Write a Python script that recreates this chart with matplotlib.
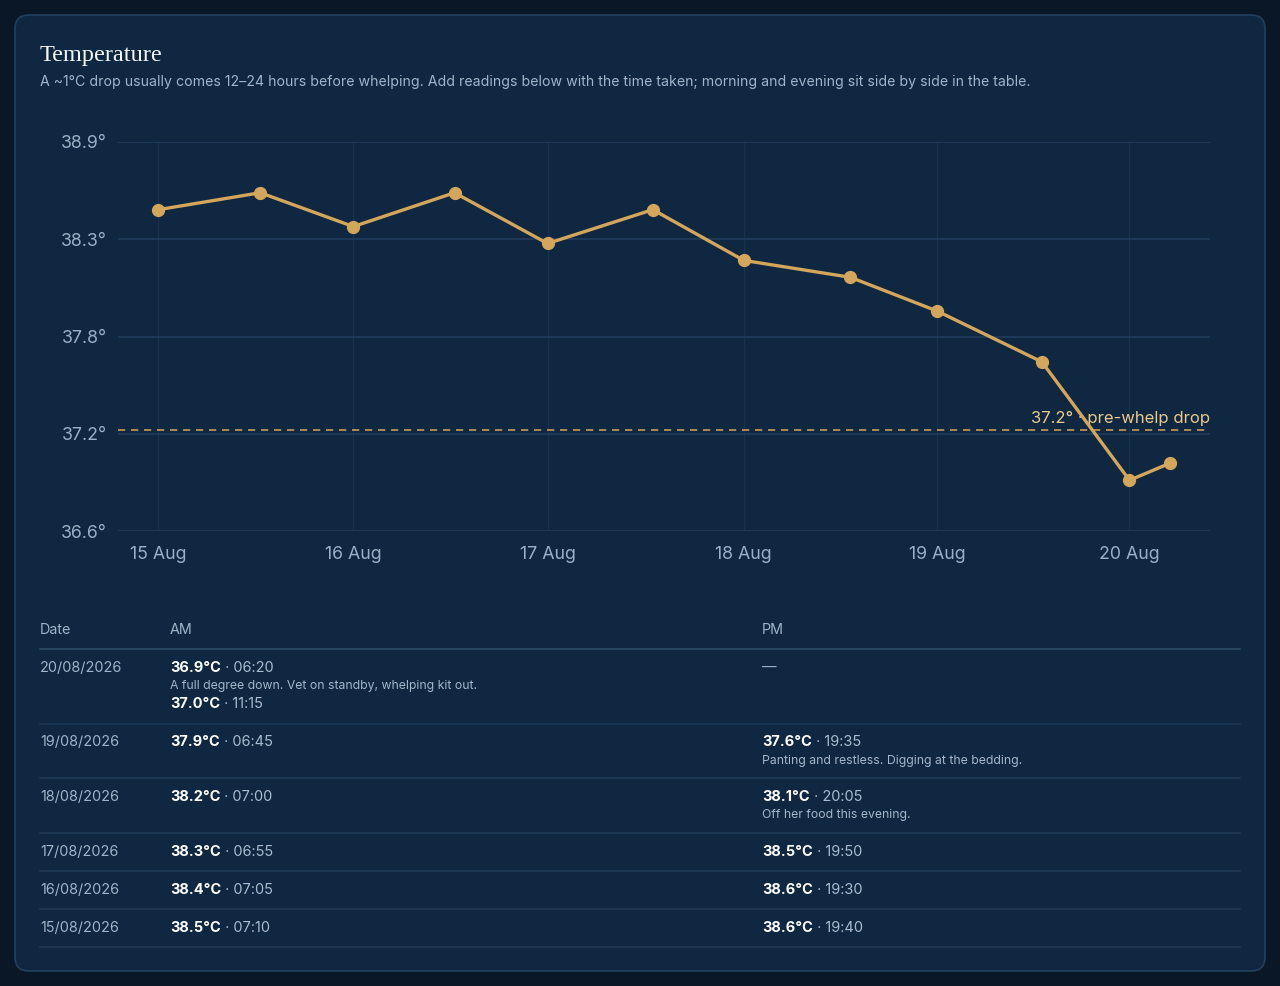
import numpy as np
import matplotlib.pyplot as plt
from matplotlib.patches import FancyBboxPatch

# readings, oldest first
reading_day = [15, 15, 16, 16, 17, 17, 18, 18, 19, 19, 20, 20]
reading_time = ['07:10', '19:40', '07:05', '19:30', '06:55', '19:50',
                '07:00', '20:05', '06:45', '19:35', '06:20', '11:15']
reading_temp = [38.5, 38.6, 38.4, 38.6, 38.3, 38.5,
                38.2, 38.1, 37.9, 37.6, 36.9, 37.0]
reading_note = ['', '', '', '', '', '', '', 'Off her food this evening.',
                '', 'Panting and restless. Digging at the bedding.',
                'A full degree down. Vet on standby, whelping kit out.', '']

threshold = 37.2
threshold_label = '37.2° · pre-whelp drop'
y_min, y_max = 36.6, 38.9

title = 'Temperature'
subtitle = ('A ~1°C drop usually comes 12–24 hours before whelping. Add readings below '
            'with the time taken; morning and evening sit side by side in the table.')
table_headers = ['Date', 'AM', 'PM']

W, H = 1280, 986
BG = '#0a1727'
CARD = '#0f2740'
GOLD = '#d4a65c'
SANS = ['Inter', 'DejaVu Sans']

plt.rcParams['font.family'] = SANS

def hours(day, t):
    hh, mm = t.split(':')
    return (day - 15) * 24 + int(hh) + int(mm) / 60.0

xs = np.array([hours(d, t) for d, t in zip(reading_day, reading_time)])
ys = np.array(reading_temp)

fig = plt.figure(figsize=(W / 100, H / 100), dpi=100, facecolor=BG)

# background axes in pixel coordinates
bg = fig.add_axes([0, 0, 1, 1])
bg.set_xlim(0, W)
bg.set_ylim(H, 0)
bg.axis('off')
bg.add_patch(FancyBboxPatch((15, 15), 1250, 956, boxstyle='round,pad=0,rounding_size=14',
                            fc=CARD, ec='#23415e', lw=1.2))

bg.text(40, 55, title, family=['Liberation Serif', 'DejaVu Serif'], fontsize=17.5,
        color='#f3f6fa', va='center', ha='left')
bg.text(40, 82, subtitle, fontsize=10.2, color='#9fb4ca', va='center', ha='left')

# chart
ax = fig.add_axes([118 / W, 1 - 531 / H, (1210 - 118) / W, (531 - 142) / H])
ax.set_facecolor('none')
pad = 0.04 * (xs.max() - xs.min())
ax.set_xlim(xs.min() - pad, xs.max() + pad)
ax.set_ylim(y_min, y_max)
yt = np.linspace(y_min, y_max, 5)
ax.set_yticks(yt)
ax.set_yticklabels(['%.1f°' % v for v in yt])
# one tick per day at its first reading
days = sorted(set(reading_day))
xt = [xs[reading_day.index(d)] for d in days]
ax.set_xticks(xt)
ax.set_xticklabels(['%d Aug' % d for d in days])
for s in ax.spines.values():
    s.set_visible(False)
ax.tick_params(length=0, labelsize=12.8, colors='#9ab0c7')
ax.tick_params(axis='y', pad=8)
ax.tick_params(axis='x', pad=11)
for v in yt:
    ax.axhline(v, color='#1f3c5a', lw=1.3, zorder=1)
for v in xt:
    ax.axvline(v, color='#17324c', lw=1.0, zorder=0.5)

ax.axhline(threshold, color=GOLD, lw=1.3, ls=(0, (4, 3.2)), alpha=0.85, zorder=2)
ax.annotate(threshold_label, xy=(1, threshold), xycoords=('axes fraction', 'data'),
            xytext=(0, 2.5), textcoords='offset points', ha='right', va='bottom',
            fontsize=12, color='#e8c98c', zorder=2.5)
ax.plot(xs, ys, color=GOLD, lw=2.4, marker='o', ms=8.5, mec=GOLD, mfc=GOLD, zorder=3,
        solid_joinstyle='round')

# table
fig.canvas.draw()
renderer = fig.canvas.get_renderer()

col_x = [40, 170, 762]
for cx, h in zip(col_x, table_headers):
    bg.text(cx, 630, h, fontsize=10.3, color='#9fb4ca', va='center', ha='left')
bg.plot([40, 1240], [649, 649], color='#2a4866', lw=1.2)

LINE_R, LINE_N, ROW_PAD = 20, 16.5, 18

def cell_entries(day, slot):
    out = []
    for i, d in enumerate(reading_day):
        if d != day:
            continue
        am = int(reading_time[i].split(':')[0]) < 12
        if (slot == 'AM') == am:
            out.append(i)
    return out

def cell_height(entries):
    if not entries:
        return LINE_R
    return sum(LINE_R + (LINE_N if reading_note[i] else 0) for i in entries)

def draw_cell(x, top, entries):
    y = top + 9
    if not entries:
        bg.text(x, y + 10, '—', fontsize=10.5, color='#9fb4ca', va='center', ha='left')
        return
    for i in entries:
        t = bg.text(x, y + 10, '%.1f°C' % reading_temp[i], fontsize=10.5, weight='bold',
                    color='#ffffff', va='center', ha='left')
        w = t.get_window_extent(renderer).width
        bg.text(x + w, y + 10, ' · ' + reading_time[i], fontsize=10.5, color='#a9bcd0',
                va='center', ha='left')
        y += LINE_R
        if reading_note[i]:
            bg.text(x, y + LINE_N / 2, reading_note[i], fontsize=8.8, color='#a3b6ca',
                    va='center', ha='left')
            y += LINE_N

top = 649
for day in sorted(days, reverse=True):
    am = cell_entries(day, 'AM')
    pm = cell_entries(day, 'PM')
    bg.text(40, top + 19, '%02d/08/2026' % day, fontsize=10.4, color='#9fb4ca',
            va='center', ha='left')
    draw_cell(col_x[1], top, am)
    draw_cell(col_x[2], top, pm)
    top += max(cell_height(am), cell_height(pm)) + ROW_PAD
    bg.plot([40, 1240], [top, top], color='#1f3b58', lw=1.1)

fig.savefig('out.png', dpi=100, facecolor=BG)
